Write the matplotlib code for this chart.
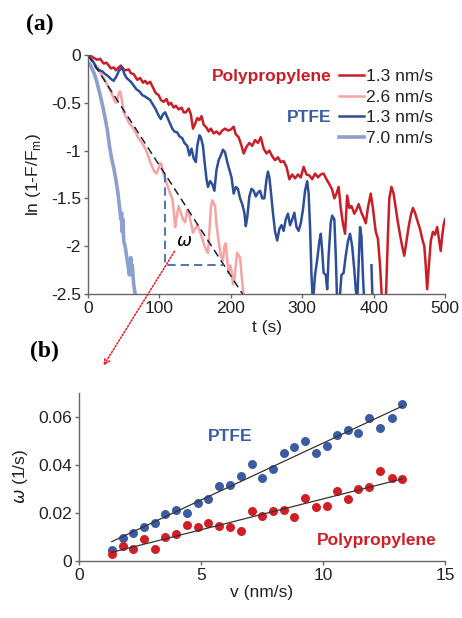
import numpy as np
import matplotlib
matplotlib.use('Agg')
import matplotlib.pyplot as plt

plt.rcParams['font.family'] = ['Liberation Sans', 'DejaVu Sans']
plt.rcParams['axes.unicode_minus'] = False

# ---- panel (a) data: ln(1-F/Fm) vs t ----
pp13_t = [0, 4, 8, 13, 17, 22, 26, 32, 36, 39, 43, 46, 50, 53, 57, 60, 64, 69, 73, 77, 80, 83, 87, 91, 95, 99,
          102, 106, 110, 113, 116, 120, 123, 127, 131, 134, 137, 141, 144, 147, 150, 153, 156, 159, 162, 166,
          169, 172, 176, 180, 184, 188, 192, 196, 200, 204, 207, 211, 215, 218, 222, 226, 230, 234, 238, 242,
          246, 250, 254, 258, 262, 266, 270, 274, 278, 282, 286, 290, 294, 298, 302, 306, 310, 314, 318, 322,
          326, 330, 334, 338, 342, 345, 348, 351, 354, 357, 360, 363, 366, 369, 373, 376, 379, 383, 386, 389,
          392, 396, 399, 403, 406, 409, 412, 417, 420, 422, 425, 428, 431, 434, 437, 440, 443, 446, 449, 452,
          455, 458, 462, 465, 468, 471, 473, 475, 477, 480, 483, 486, 489, 492, 494, 496, 498, 500]
pp13_y = [0, -0.01, -0.03, -0.05, -0.04, -0.09, -0.08, -0.14, -0.13, -0.16, -0.13, -0.11, -0.15, -0.16, -0.15,
          -0.19, -0.2, -0.26, -0.24, -0.29, -0.27, -0.3, -0.28, -0.34, -0.4, -0.42, -0.47, -0.49, -0.46, -0.52,
          -0.5, -0.55, -0.53, -0.57, -0.55, -0.6, -0.6, -0.56, -0.62, -0.77, -0.72, -0.66, -0.68, -0.64, -0.73,
          -0.76, -0.8, -0.77, -0.82, -0.8, -0.83, -0.79, -0.77, -0.79, -0.78, -0.75, -0.83, -0.86, -0.95, -1.03,
          -0.96, -0.92, -0.95, -0.89, -0.92, -0.86, -0.98, -1.03, -1.0, -1.06, -1.1, -1.07, -1.12, -1.11, -1.17,
          -1.3, -1.25, -1.29, -1.25, -1.28, -1.17, -1.25, -1.26, -1.3, -1.24, -1.28, -1.25, -1.24, -1.3, -1.35,
          -1.41, -1.5, -1.45, -1.38, -1.6, -1.76, -1.87, -1.47, -1.6, -1.58, -1.66, -1.62, -1.56, -1.65, -1.7,
          -1.76, -1.6, -1.45, -1.6, -1.85, -1.92, -2.2, -2.6, -2.6, -1.9, -1.5, -1.38, -1.45, -1.6, -1.75, -1.88,
          -2.0, -2.1, -1.95, -1.8, -1.68, -1.6, -1.65, -1.75, -1.82, -1.92, -2.0, -2.2, -2.45, -2.25, -1.95,
          -1.85, -1.88, -1.8, -1.95, -2.05, -1.9, -1.78, -1.72]

pp26_t = [0, 3, 6, 10, 13, 16, 20, 23, 26, 30, 33, 36, 39, 41, 43, 45, 47, 50, 54, 58, 62, 66, 70, 74, 78, 81,
          84, 87, 90, 93, 96, 99, 101, 103, 106, 109, 112, 115, 118, 120, 122, 124, 127, 130, 133, 136, 139, 141,
          144, 147, 150, 153, 156, 159, 162, 165, 168, 170, 172, 174, 176, 178, 180, 183, 186, 189, 191, 193,
          195, 197, 199, 201, 203, 205, 207, 209, 211, 213, 215, 217, 219]
pp26_y = [0, -0.03, -0.05, -0.1, -0.12, -0.17, -0.22, -0.25, -0.3, -0.36, -0.4, -0.46, -0.5, -0.47, -0.4,
          -0.38, -0.45, -0.6, -0.66, -0.72, -0.75, -0.8, -0.86, -0.9, -0.95, -0.99, -1.05, -1.12, -1.17, -1.22,
          -1.24, -1.18, -1.13, -1.15, -1.25, -1.32, -1.38, -1.45, -1.5, -1.62, -1.8, -1.7, -1.58, -1.65, -1.72,
          -1.75, -1.62, -1.65, -1.75, -1.86, -1.82, -1.78, -1.83, -1.9, -1.97, -2.03, -2.07, -1.85, -1.6, -1.52,
          -1.55, -1.58, -1.78, -1.95, -2.1, -2.15, -2.0, -1.97, -2.15, -2.28, -2.2, -2.25, -2.4, -2.35, -2.2,
          -2.07, -2.1, -2.12, -2.3, -2.45, -2.6]

ptfe13_t = [0, 4, 8, 12, 16, 20, 24, 28, 32, 36, 40, 43, 46, 48, 51, 54, 57, 60, 64, 68, 72, 76, 79, 83, 87, 91,
            95, 98, 102, 105, 108, 111, 115, 118, 121, 125, 128, 132, 135, 139, 142, 145, 148, 151, 153, 156, 158,
            161, 163, 166, 168, 171, 174, 177, 180, 183, 186, 189, 192, 195, 198, 201, 204, 207, 210, 213, 216,
            219, 221, 223, 226, 229, 232, 235, 238, 241, 244, 247, 250, 252, 254, 256, 259, 262, 265, 268, 271,
            274, 277, 280, 283, 286, 289, 292, 295, 298, 301, 304, 307, 309, 311, 313, 315, 318, 321, 324, 326,
            328, 330, 333, 335, 337, 340, 342, 345, 347, 349, 352, 355, 358, 361, 364, 367, 370, 373, 375, 377,
            379, 381, 383, 385, 387, np.nan, 397, 398, 399]
ptfe13_y = [0, -0.04, -0.08, -0.14, -0.16, -0.17, -0.2, -0.22, -0.25, -0.27, -0.22, -0.17, -0.14, -0.13, -0.2,
            -0.24, -0.26, -0.28, -0.32, -0.36, -0.38, -0.42, -0.43, -0.45, -0.47, -0.52, -0.57, -0.62, -0.67,
            -0.62, -0.6, -0.65, -0.72, -0.77, -0.8, -0.81, -0.85, -0.87, -0.92, -0.95, -1.05, -0.98, -1.08, -1.12,
            -0.95, -0.84, -0.86, -0.95, -1.1, -1.3, -1.38, -1.32, -1.35, -1.42, -1.2, -1.1, -1.05, -0.99, -1.02,
            -1.12, -1.2, -1.28, -1.45, -1.38, -1.4, -1.5, -1.56, -1.65, -1.79, -1.7, -1.48, -1.4, -1.42, -1.48,
            -1.44, -1.42, -1.5, -1.5, -1.3, -1.22, -1.28, -1.42, -1.65, -1.85, -1.94, -1.82, -1.78, -1.84, -1.72,
            -1.66, -1.78, -1.72, -1.65, -1.8, -1.84, -1.76, -1.62, -1.42, -1.32, -1.45, -1.8, -2.3, -2.6, -2.3,
            -2.14, -1.95, -1.87, -2.05, -2.28, -2.3, -2.45, -2.1, -1.75, -1.68, -1.72, -2.1, -2.6, -2.6, -2.3,
            -2.28, -2.1, -1.95, -1.87, -2.0, -2.25, -2.45, -2.6, -2.2, -1.8, -1.9, -2.3, -2.6, np.nan, -2.2,
            -2.45, -2.6]

ptfe70_t = [0, 3, 6, 9, 12, 15, 18, 21, 24, 27, 30, 33, 36, 39, 42, 44, 46, 47, 48, 49, 50, 52, 54, 56, 58, 59,
            60, 61, 62, 64, 66, 67]
ptfe70_y = [-0.08, -0.1, -0.15, -0.2, -0.27, -0.36, -0.45, -0.55, -0.66, -0.78, -0.95, -1.08, -1.18, -1.3,
            -1.45, -1.58, -1.72, -1.65, -1.85, -1.72, -1.95, -2.0, -2.1, -2.2, -2.3, -2.18, -2.12, -2.3, -2.2,
            -2.4, -2.5, -2.6]

omega_fit = 0.01155          # slope of dashed fit for the 2.6 nm/s curve
tri_t = [108, 108, 190]
tri_y = [-1.25, -2.2, -2.2]

# ---- panel (b) data: omega vs v ----
v = [1.34, 1.79, 2.23, 2.66, 3.11, 3.54, 3.98, 4.44, 4.86, 5.30, 5.74, 6.17, 6.63, 7.08, 7.51, 7.95, 8.40,
     8.81, 9.28, 9.71, 10.18, 10.56, 11.01, 11.45, 11.90, 12.34, 12.81, 13.25]
w_ptfe = [0.0045, 0.0093, 0.0117, 0.0140, 0.0159, 0.0194, 0.0212, 0.0201, 0.0240, 0.0258, 0.0313, 0.0317,
          0.0352, 0.0405, 0.0347, 0.0382, 0.0449, 0.0474, 0.0501, 0.0449, 0.0477, 0.0526, 0.0547, 0.0533,
          0.0596, 0.0554, 0.0596, 0.0656]
w_pp = [0.0028, 0.0061, 0.0047, 0.0089, 0.0050, 0.0100, 0.0110, 0.0149, 0.0142, 0.0156, 0.0145, 0.0142,
        0.0124, 0.0208, 0.0187, 0.0208, 0.0212, 0.0181, 0.0261, 0.0223, 0.0229, 0.0289, 0.0257, 0.0299,
        0.0306, 0.0373, 0.0347, 0.0340]

red = '#c81e28'
pink = '#f5a3a5'
blue = '#2f4e98'
lblue = '#8ca0cd'
pt_blue = '#3b5ca3'
pt_red = '#d11f27'

fig = plt.figure(figsize=(4.62, 6.18), dpi=100)

# ---------------- (a) ----------------
ax = fig.add_axes([0.1905, 0.5243, 0.7727, 0.3867])
l1, = ax.plot(pp13_t, pp13_y, color=red, lw=1.8, label='1.3 nm/s')
l2, = ax.plot(pp26_t, pp26_y, color=pink, lw=1.8, label='2.6 nm/s')
l3, = ax.plot(ptfe13_t, ptfe13_y, color=blue, lw=1.8, label='1.3 nm/s')
l4, = ax.plot(ptfe70_t, ptfe70_y, color=lblue, lw=2.6, label='7.0 nm/s')
ax.axline((0, 0), slope=-omega_fit, color='#1c2233', lw=1.1, ls=(0, (5, 3)))
ax.plot(tri_t, tri_y, color=pt_blue, lw=1.2, ls=(0, (5, 3)))
ax.text(123, -1.95, r'$\omega$', fontsize=13, ha='left', va='center')

ax.set_xlim(0, 500)
ax.set_ylim(-2.5, 0)
ax.set_xticks([0, 100, 200, 300, 400, 500])
ax.set_yticks([0, -0.5, -1, -1.5, -2, -2.5])
ax.set_yticklabels(['0', '-0.5', '-1', '-1.5', '-2', '-2.5'])
ax.set_xlabel('t (s)', fontsize=12.5, color='#222', labelpad=3)
ax.set_ylabel(r'ln (1-F/F$_\mathregular{m}$)', fontsize=12.5, color='#222', labelpad=6)

leg = ax.legend(handles=[l1, l2, l3, l4], loc='upper left', bbox_to_anchor=(0.703, 0.94),
                frameon=False, fontsize=12.5, handlelength=1.45, handletextpad=0.12,
                labelspacing=0.3, borderpad=0, borderaxespad=0)
for txt in leg.get_texts():
    txt.set_color('#222')
ax.text(0.683, 0.908, 'Polypropylene', transform=ax.transAxes, color=red, fontsize=12.5,
        fontweight='bold', ha='right', va='center')
ax.text(0.683, 0.737, 'PTFE', transform=ax.transAxes, color=pt_blue, fontsize=12.5,
        fontweight='bold', ha='right', va='center')

# ---------------- (b) ----------------
bx = fig.add_axes([0.171, 0.0927, 0.7922, 0.2714])
bx.scatter(v, w_ptfe, s=42, color=pt_blue, zorder=3, linewidths=0)
bx.scatter(v, w_pp, s=42, color=pt_red, zorder=3, linewidths=0)
for w in (w_ptfe, w_pp):
    k, b = np.polyfit(v, w, 1)
    xs = np.array([v[0], v[-1]])
    bx.plot(xs, k * xs + b, color='#333', lw=0.9, zorder=4)
bx.text(6.2, 0.052, 'PTFE', color=pt_blue, fontsize=12.5, fontweight='bold', ha='center', va='center')
bx.text(12.2, 0.0084, 'Polypropylene', color=pt_red, fontsize=12.5, fontweight='bold', ha='center', va='center')
bx.set_xlim(0, 15)
bx.set_ylim(0, 0.07)
bx.set_xticks([0, 5, 10, 15])
bx.set_yticks([0, 0.02, 0.04, 0.06])
bx.set_yticklabels(['0', '0.02', '0.04', '0.06'])
bx.set_xlabel('v (nm/s)', fontsize=12.5, color='#222', labelpad=2)
bx.set_ylabel(r'$\omega$ (1/s)', fontsize=12.5, color='#222', labelpad=6)

for a in (ax, bx):
    for s in ('top', 'right'):
        a.spines[s].set_visible(False)
    for s in ('left', 'bottom'):
        a.spines[s].set_color('#666')
        a.spines[s].set_linewidth(1.0)
    a.tick_params(direction='out', length=3, width=1, color='#666', labelsize=12.5, labelcolor='#222', pad=2)

# panel labels and the red dotted arrow linking the two panels
fig.text(40 / 462, 1 - 24 / 618, '(a)', fontsize=17, fontweight='bold', family='Liberation Serif',
         ha='center', va='center')
fig.text(44 / 462, 1 - 351 / 618, '(b)', fontsize=17, fontweight='bold', family='Liberation Serif',
         ha='center', va='center')
fig.add_artist(matplotlib.patches.FancyArrowPatch((176 / 462, 1 - 249 / 618), (102 / 462, 1 - 368 / 618),
               transform=fig.transFigure, arrowstyle='->', mutation_scale=10, color='#e8141e',
               lw=1.1, ls=(0, (1, 1.2))))

fig.savefig('out.png', dpi=100)
